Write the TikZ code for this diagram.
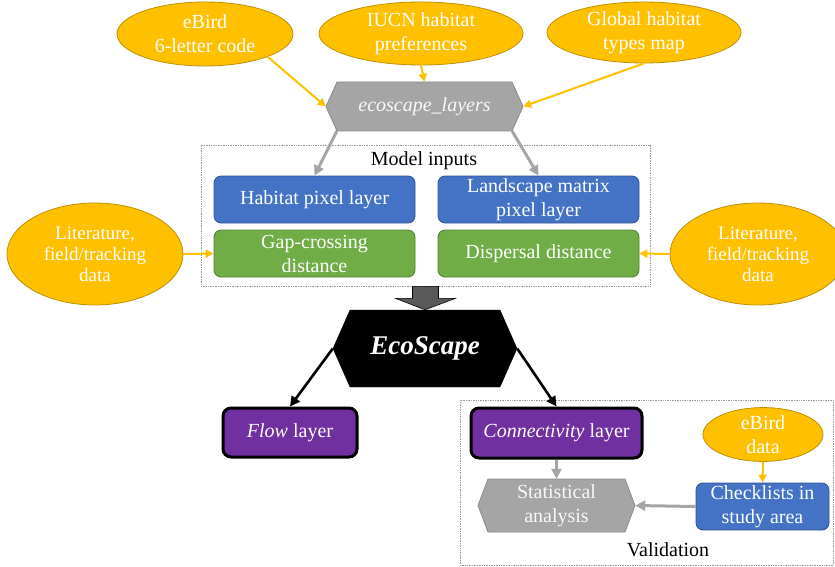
\documentclass[tikz,border=0pt]{standalone}
\usepackage{fontspec}
\setmainfont{Liberation Serif}
\usetikzlibrary{arrows.meta,shapes.geometric,calc}
\definecolor{ylw}{HTML}{FFC000}
\definecolor{ylwd}{HTML}{BF9000}
\definecolor{blu}{HTML}{4472C4}
\definecolor{blud}{HTML}{2F528F}
\definecolor{grn}{HTML}{70AD47}
\definecolor{grnd}{HTML}{507E32}
\definecolor{prp}{HTML}{7030A0}
\definecolor{gry}{HTML}{A5A5A5}
\definecolor{gryd}{HTML}{8A8A8A}
\definecolor{dkg}{HTML}{595959}
\newcommand\myhex[6]{\filldraw[#6] ({#1-#3/2},#2) -- ({#1-#3/2+#5},{#2-#4/2}) -- ({#1+#3/2-#5},{#2-#4/2}) -- ({#1+#3/2},#2) -- ({#1+#3/2-#5},{#2+#4/2}) -- ({#1-#3/2+#5},{#2+#4/2}) -- cycle;}
\tikzset{
  txt/.style={font=\fontsize{20}{24}\selectfont, align=center},
  oval/.style={ellipse, fill=ylw, draw=ylwd, line width=0.8pt, text=white, inner sep=0pt, txt},
  smalloval/.style={oval, font=\fontsize{19}{21}\selectfont},
  bluebox/.style={rectangle, rounded corners=7pt, fill=blu, draw=blud, line width=0.8pt, text=white, inner sep=0pt, txt},
  greenbox/.style={rectangle, rounded corners=7pt, fill=grn, draw=grnd, line width=0.8pt, text=white, inner sep=0pt, txt},
  purpbox/.style={rectangle, rounded corners=8pt, fill=prp, draw=black, line width=3pt, text=white, inner sep=0pt, txt},
  hexlabel/.style={rectangle, inner sep=0pt, txt},
  frame/.style={rectangle, draw=gray!80, densely dotted, line width=0.7pt, inner sep=0pt},
  yarr/.style={draw=ylw, line width=2pt, -{Triangle[length=8pt,width=8pt]}},
  garr/.style={draw=gry, line width=3pt, -{Triangle[length=10pt,width=10pt]}},
  barr/.style={draw=black, line width=2.6pt, -{Triangle[length=10pt,width=10pt]}},
}
\begin{document}
\begin{tikzpicture}[x=1pt,y=-1pt]
\useasboundingbox (0,0) rectangle (835,567);
% frames
\node[frame, minimum width=449, minimum height=141] (inputs) at (425.5,215.5) {};
\node[txt] (inlab) at (424,161) {Model inputs};
\node[frame, minimum width=373, minimum height=165] (valbox) at (646.5,482.5) {};
\node[txt] (vallab) at (668,550) {Validation};
% top ellipses
\node[oval, minimum width=176, minimum height=64] (ebird) at (205,34) {eBird\\6-letter code};
\node[oval, minimum width=204, minimum height=63] (iucn) at (421,33.5) {IUCN habitat\\preferences};
\node[oval, minimum width=194, minimum height=61] (glob) at (644,32.5) {Global habitat\\types map};
% ecoscape_layers hexagon
\myhex{424.5}{106.5}{197}{49}{11}{fill=gry, draw=gryd, line width=0.8pt}
\node[hexlabel, text=white!95!gray, minimum width=197, minimum height=49] (layers) at (424.5,106.5) {\itshape ecoscape\_layers};
% inputs
\node[bluebox, minimum width=201, minimum height=47] (hab) at (314.5,199.5) {Habitat pixel layer};
\node[bluebox, minimum width=201, minimum height=47] (land) at (538.5,199.5) {Landscape matrix\\pixel layer};
\node[greenbox, minimum width=201, minimum height=47] (gap) at (314.5,253.5) {Gap-crossing\\distance};
\node[greenbox, minimum width=201, minimum height=47] (disp) at (538.5,253.5) {Dispersal distance};
\node[smalloval, minimum width=176, minimum height=102] (litl) at (95,254) {Literature,\\field/tracking\\data};
\node[smalloval, minimum width=176, minimum height=102] (litr) at (758,254) {Literature,\\field/tracking\\data};
% EcoScape hexagon
\myhex{425}{348.5}{184}{77}{17}{fill=black, draw=black}
\node[hexlabel, text=white, minimum width=184, minimum height=77, font=\fontsize{27}{30}\selectfont\bfseries\itshape] (eco) at (425,348.5) {EcoScape};
% outputs
\node[purpbox, minimum width=134, minimum height=49] (flow) at (290,432.5) {\textit{Flow} layer};
\node[purpbox, minimum width=171, minimum height=50] (conn) at (556.5,433) {\textit{Connectivity} layer};
\node[oval, minimum width=120, minimum height=49] (ebd) at (763,434.5) {eBird\\data};
\node[bluebox, minimum width=133, minimum height=47] (check) at (762.5,506.5) {Checklists in\\study area};
\myhex{556.5}{505.5}{157}{53}{10}{fill=gry, draw=gryd, line width=0.8pt}
\node[hexlabel, text=white!95!gray, minimum width=157, minimum height=53] (stat) at (556.5,505.5) {Statistical\\analysis};
% connectors
\draw[yarr] (ebird.-20) -- (layers.west);
\draw[yarr] (iucn.south) -- (layers.north);
\draw[yarr] (glob.south) -- (layers.east);
\draw[garr] ($(layers.south west)+(11,0)$) -- (hab.north);
\draw[garr] ($(layers.south east)+(-11,0)$) -- (land.north);
\draw[yarr] (litl.east) -- (gap.west);
\draw[yarr] (litr.west) -- (disp.east);
\filldraw[fill=dkg, draw=black, line width=0.6pt]
  ($(inputs.south)+(-13,0)$) -- ($(inputs.south)+(13,0)$) -- ($(inputs.south)+(13,12)$)
  -- ($(inputs.south)+(30,12)$) -- (eco.north) -- ($(inputs.south)+(-30,12)$)
  -- ($(inputs.south)+(-13,12)$) -- cycle;
\draw[barr] (eco.west) -- (flow.north);
\draw[barr] (eco.east) -- (conn.north);
\draw[garr] (conn.south) -- (stat.north);
\draw[yarr] (ebd.south) -- (check.north);
\draw[garr] (check.west) -- (stat.east);
\end{tikzpicture}
\end{document}
